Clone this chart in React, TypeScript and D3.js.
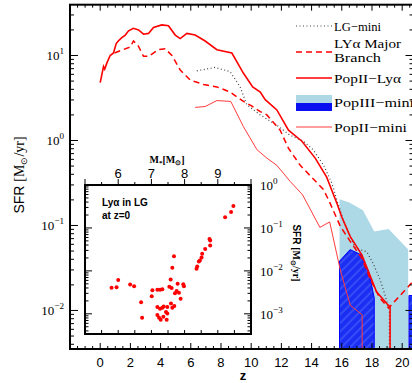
import React from 'react';
import * as d3 from 'd3';

// PopII-Lya (solid thick red)
const popIILyaZ = [0, 0.22, 0.3, 0.44, 0.66, 0.88, 1.06, 1.2, 1.43, 1.66, 1.88, 2.2, 2.54, 2.87, 3.2, 3.53, 4.08, 4.52, 4.97, 5.3, 5.74, 6.29, 6.95, 7.73, 8.72, 9.49, 10.1, 10.6, 10.93, 11.7, 12.47, 13.36, 14.24, 15.0, 15.7, 16.0, 16.56, 17.33, 17.9, 18.3, 18.99, 19.2, 19.2];
const popIILyaSfr = [4.79, 7.41, 6.92, 8.13, 10, 10.7, 13.8, 14.8, 16.2, 17.4, 19.5, 20.9, 20.0, 17.8, 18.2, 21.4, 22.9, 22.4, 17.4, 15.8, 18.2, 17.4, 14.8, 11.7, 10.7, 6.17, 4.27, 3.72, 3.02, 2.29, 1.32, 0.98, 0.62, 0.37, 0.178, 0.126, 0.074, 0.045, 0.025, 0.0166, 0.012, 0.011, 0.0001];

// Lya major branch (dashed red)
const majorZ = [0.95, 1.5, 2.0, 2.2, 2.5, 2.87, 3.2, 3.86, 4.3, 4.75, 5.3, 5.96, 6.84, 7.73, 8.6, 9.49, 10.0, 10.6, 11.04, 11.92, 12.47, 13.25, 14.1, 14.8, 15.23, 15.9, 16.56, 17.33, 17.9, 18.54, 19.1, 20.4, 20.75];
const majorSfr = [10.7, 11.7, 12.6, 14.8, 13.2, 9.77, 9.77, 11.7, 12.0, 10, 6.76, 5.13, 4.57, 4.27, 3.72, 2.88, 2.57, 2.19, 2.0, 1.32, 0.81, 0.51, 0.355, 0.263, 0.182, 0.098, 0.065, 0.041, 0.023, 0.0138, 0.0107, 0.019, 0.0224];

// LG-mini (dotted)
const lgMiniZ = [6.4, 7.6, 8.6, 9.27, 9.71, 10.6, 11.7, 12.58, 13.46, 14.1, 14.8, 15.34, 15.67, 16.1, 16.9, 17.66, 18.1, 18.54, 18.87, 19.15, 19.15];
const lgMiniSfr = [6.6, 7.24, 6.46, 4.27, 2.63, 2.0, 1.51, 1.15, 0.98, 0.78, 0.51, 0.316, 0.2, 0.115, 0.054, 0.049, 0.035, 0.023, 0.015, 0.010, 0.0001];

// PopII-mini (thin red)
const popIIMiniZ = [6.29, 6.95, 7.73, 8.65, 9.49, 10.38, 11.04, 11.7, 12.58, 13.4, 14.55, 15.2, 15.9, 16.56, 17.35, 17.35];
const popIIMiniSfr = [2.45, 2.51, 2.95, 2.88, 1.45, 0.78, 0.62, 0.51, 0.33, 0.23, 0.095, 0.11, 0.03, 0.0115, 0.0089, 0.0001];

// PopIII-mini bands
const popIIIUpperZ = [15.85, 16.5, 17.4, 18.15, 19.1, 20.4];
const popIIIUpperSfr = [0.204, 0.186, 0.151, 0.085, 0.091, 0.052];
const popIIILowerZ = [15.85, 16.55, 17.3, 17.8, 18.15];
const popIIILowerSfr = [0.038, 0.052, 0.045, 0.028, 0.014];
const popIIIHighZ = [20.45, 20.8];
const popIIIHighSfr = [0.015, 0.015];

// inset: Lya emitters in the Local Group at z=0
const insetLogMass = [5.8, 5.95, 6.0, 6.36, 6.48, 6.69, 6.72, 7.01, 7.03, 7.18, 7.26, 7.33, 7.18, 7.26, 7.33, 7.37, 7.18, 7.23, 7.28, 7.36, 7.46, 7.44, 7.48, 7.48, 7.54, 7.58, 7.61, 7.59, 7.63, 7.69, 7.63, 7.68, 7.71, 7.76, 7.79, 7.83, 7.88, 7.96, 7.98, 8.36, 8.38, 8.43, 8.46, 8.51, 8.53, 8.62, 8.77, 8.77, 8.75, 9.22, 9.4, 9.47];
const insetLogSfr = [-2.39, -2.38, -2.21, -2.32, -2.36, -2.73, -3.09, -2.59, -2.45, -2.44, -2.44, -2.43, -2.84, -2.88, -2.86, -2.83, -3.03, -3.09, -3.14, -3.07, -3.14, -2.96, -2.84, -2.99, -2.37, -2.2, -2.4, -2.76, -2.86, -2.82, -1.93, -1.66, -2.52, -2.47, -2.3, -2.51, -2.65, -2.31, -2.36, -1.95, -1.9, -1.78, -1.76, -1.69, -1.6, -1.49, -1.41, -1.29, -1.26, -0.75, -0.63, -0.49];

const zTicks = [0, 2, 4, 6, 8, 10, 12, 14, 16, 18, 20];
const mainDecades = [-2, -1, 0, 1];
const insetDecades = [-3, -2, -1, 0];
const massTicks = [6, 7, 8, 9];

const W = 412;
const H = 383;
const P = { left: 70, right: 413.5, top: 4.7, bottom: 349 };
const I = { left: 85, right: 251, top: 185, bottom: 334 };

const RED = '#ff0000';
const SERIF = '"Liberation Serif", "Times New Roman", serif';
const SANS = '"Liberation Sans", Arial, sans-serif';

const x = d3.scaleLinear().domain([-2, 20.75]).range([P.left, P.right]);
const y = d3.scaleLog().domain([0.00352, 39.6]).range([P.bottom, P.top]);
const ix = d3.scaleLinear().domain([5, 10]).range([I.left, I.right]);
const iy = d3.scaleLog().domain([10 ** -3.47, 1]).range([I.bottom, I.top]);

const pairs = (zs: number[], vs: number[]) => zs.map((z, i) => [z, vs[i]] as [number, number]);

const line = d3.line<[number, number]>().x(d => x(d[0])).y(d => y(d[1]));
const area = d3.area<[number, number]>().x(d => x(d[0])).y0(P.bottom).y1(d => y(d[1]));

function logTicks(scale: d3.ScaleLogarithmic<number, number>, lo: number, hi: number) {
  const [d0, d1] = scale.domain();
  const out: { v: number; major: boolean }[] = [];
  for (let e = lo; e <= hi; e++) {
    for (let m = 1; m < 10; m++) {
      const v = m * 10 ** e;
      if (v >= d0 && v <= d1) out.push({ v, major: m === 1 });
    }
  }
  return out;
}

const Pow = ({ x: px, y: py, exp, anchor = 'end', size = 13 }: { x: number; y: number; exp: string; anchor?: string; size?: number }) => (
  <text x={px} y={py} textAnchor={anchor} fontFamily={SERIF} fontSize={size} fill="#000">
    10<tspan dy={-6} fontSize={size * 0.7}>{exp}</tspan>
  </text>
);

const App: React.FC = () => {
  const mainY = logTicks(y, -3, 1);
  const insetY = logTicks(iy, -4, 0);
  const zMinor = d3.range(-2, 20.75 + 0.01, 0.5);
  const massMinor = d3.range(5, 10.01, 0.5);

  return (
    <svg width={W} height={H} style={{ position: 'absolute', left: 0, top: 0, background: '#fff' }}>
      <defs>
        <clipPath id="plot">
          <rect x={P.left} y={P.top} width={P.right - P.left} height={P.bottom - P.top} />
        </clipPath>
        <pattern id="hatch" patternUnits="userSpaceOnUse" width={6} height={6} patternTransform="rotate(45)">
          <rect width={6} height={6} fill="#1a2ef4" />
          <line x1={1} y1={0} x2={1} y2={6} stroke="#4259f5" strokeWidth={1.4} />
        </pattern>
      </defs>

      {/* PopIII-mini bands */}
      <g clipPath="url(#plot)">
        <path d={area(pairs(popIIIUpperZ, popIIIUpperSfr)) || ''} fill="#add8e6" />
        <path d={area(pairs(popIIILowerZ, popIIILowerSfr)) || ''} fill="url(#hatch)" stroke="#0000ff" strokeWidth={1} />
        <path d={area(pairs(popIIIHighZ, popIIIHighSfr)) || ''} fill="url(#hatch)" stroke="#0000ff" strokeWidth={1} />

        {/* curves */}
        <path d={line(pairs(lgMiniZ, lgMiniSfr)) || ''} fill="none" stroke="#444" strokeWidth={1.2} strokeDasharray="1,2.5" />
        <path d={line(pairs(popIIMiniZ, popIIMiniSfr)) || ''} fill="none" stroke="#ff3b3b" strokeWidth={1} />
        <path d={line(pairs(majorZ, majorSfr)) || ''} fill="none" stroke={RED} strokeWidth={1.5} strokeDasharray="6,4" />
        <path d={line(pairs(popIILyaZ, popIILyaSfr)) || ''} fill="none" stroke={RED} strokeWidth={1.6} />
      </g>

      {/* main frame */}
      <rect x={P.left} y={P.top} width={P.right - P.left} height={P.bottom - P.top} fill="none" stroke="#000" strokeWidth={2} />

      {/* main z ticks (bottom + top) */}
      {zMinor.map(z => {
        const major = Math.abs(z % 2) < 1e-6;
        const len = major ? 6 : 3;
        return (
          <g key={`zt-${z}`}>
            <line x1={x(z)} x2={x(z)} y1={P.bottom} y2={P.bottom - len} stroke="#000" strokeWidth={1} />
            <line x1={x(z)} x2={x(z)} y1={P.top} y2={P.top + len} stroke="#000" strokeWidth={1} />
          </g>
        );
      })}
      {zTicks.map(z => (
        <text key={`zl-${z}`} x={x(z)} y={367} textAnchor="middle" fontFamily={SANS} fontSize={13} fill="#000">{z}</text>
      ))}
      <text x={243} y={380} textAnchor="middle" fontFamily={SANS} fontSize={13} fontWeight="bold">z</text>

      {/* main log ticks */}
      {mainY.map(t => {
        const len = t.major ? 8 : 4;
        return (
          <g key={`my-${t.v}`}>
            <line x1={P.left} x2={P.left + len} y1={y(t.v)} y2={y(t.v)} stroke="#000" strokeWidth={1} />
            <line x1={P.right} x2={P.right - len} y1={y(t.v)} y2={y(t.v)} stroke="#000" strokeWidth={1} />
          </g>
        );
      })}
      {mainDecades.map(e => (
        <Pow key={`mp-${e}`} x={64} y={y(10 ** e) + 5} exp={e < 0 ? `\u2212${-e}` : `${e}`} />
      ))}
      <text transform={`translate(24, 175) rotate(-90)`} textAnchor="middle" fontSize={14} fill="#000">
        <tspan fontFamily={SANS}>SFR </tspan>
        <tspan fontFamily={SERIF}>[M</tspan>
        <tspan fontFamily={SERIF} fontSize={9} dy={3}>⊙</tspan>
        <tspan fontFamily={SERIF} dy={-3}>/yr]</tspan>
      </text>

      {/* legend */}
      <g fontFamily={SERIF} fontSize={13} fill="#000">
        <line x1={296} x2={332} y1={26} y2={26} stroke="#444" strokeWidth={1.2} strokeDasharray="1,2.5" />
        <text x={334} y={31} textLength={47} lengthAdjust="spacingAndGlyphs">LG−mini</text>

        <line x1={296} x2={332} y1={52} y2={52} stroke={RED} strokeWidth={1.5} strokeDasharray="6,4" />
        <text x={334} y={48} fontSize={12} textLength={67} lengthAdjust="spacingAndGlyphs">LYα Major</text>
        <text x={334} y={62} fontSize={12} textLength={47} lengthAdjust="spacingAndGlyphs">Branch</text>

        <line x1={296} x2={332} y1={78} y2={78} stroke={RED} strokeWidth={1.6} />
        <text x={334} y={83} textLength={67} lengthAdjust="spacingAndGlyphs">PopII−Lyα</text>

        <rect x={296} y={95} width={36} height={8} fill="#add8e6" />
        <rect x={296} y={103} width={36} height={8} fill="#0a10f0" />
        <text x={334} y={107} textLength={80} lengthAdjust="spacingAndGlyphs">PopIII−mini</text>

        <line x1={296} x2={332} y1={127} y2={127} stroke="#ff3b3b" strokeWidth={1} />
        <text x={334} y={132} textLength={73} lengthAdjust="spacingAndGlyphs">PopII−mini</text>
      </g>

      {/* inset */}
      <rect x={I.left} y={I.top} width={I.right - I.left} height={I.bottom - I.top} fill="#fff" stroke="#000" strokeWidth={2} />
      {massMinor.map(m => {
        const major = Math.abs(m % 1) < 1e-6;
        return (
          <g key={`it-${m}`}>
            <line x1={ix(m)} x2={ix(m)} y1={I.top} y2={I.top - (major ? 6 : 3)} stroke="#000" strokeWidth={1} />
            <line x1={ix(m)} x2={ix(m)} y1={I.bottom} y2={I.bottom - 4} stroke="#000" strokeWidth={1} />
          </g>
        );
      })}
      {massTicks.map(m => (
        <text key={`ml-${m}`} x={ix(m)} y={178} textAnchor="middle" fontFamily={SANS} fontSize={13}>{m}</text>
      ))}
      <text x={167} y={163} textAnchor="middle" fontFamily={SERIF} fontSize={10} fontWeight="bold">
        M<tspan fontSize={7} dy={2}>*</tspan><tspan dy={-2}>[M</tspan><tspan fontSize={7} dy={2}>⊙</tspan><tspan dy={-2}>]</tspan>
      </text>
      {insetY.map(t => {
        const len = t.major ? 7 : 3.5;
        return (
          <g key={`iy-${t.v}`}>
            <line x1={I.left} x2={I.left + len} y1={iy(t.v)} y2={iy(t.v)} stroke="#000" strokeWidth={1} />
            <line x1={I.right} x2={I.right - len} y1={iy(t.v)} y2={iy(t.v)} stroke="#000" strokeWidth={1} />
          </g>
        );
      })}
      {insetDecades.map(e => (
        <Pow key={`ip-${e}`} x={260} y={iy(10 ** e) + 5} anchor="start" exp={e < 0 ? `\u2212${-e}` : `${e}`} />
      ))}
      <text transform={`translate(293, 253) rotate(90)`} textAnchor="middle" fontSize={10} fontWeight="bold" fill="#000">
        <tspan fontFamily={SANS}>SFR </tspan>
        <tspan fontFamily={SERIF}>[M</tspan>
        <tspan fontFamily={SERIF} fontSize={7} dy={2}>⊙</tspan>
        <tspan fontFamily={SERIF} dy={-2}>/yr]</tspan>
      </text>
      <text x={102} y={206} fontFamily={SANS} fontSize={10} fontWeight="bold">Lyα in LG</text>
      <text x={102} y={219} fontFamily={SANS} fontSize={10} fontWeight="bold">at z=0</text>
      {insetLogMass.map((m, i) => (
        <circle key={`pt-${i}`} cx={ix(m)} cy={iy(10 ** insetLogSfr[i])} r={2} fill={RED} />
      ))}
    </svg>
  );
};

export default App;
